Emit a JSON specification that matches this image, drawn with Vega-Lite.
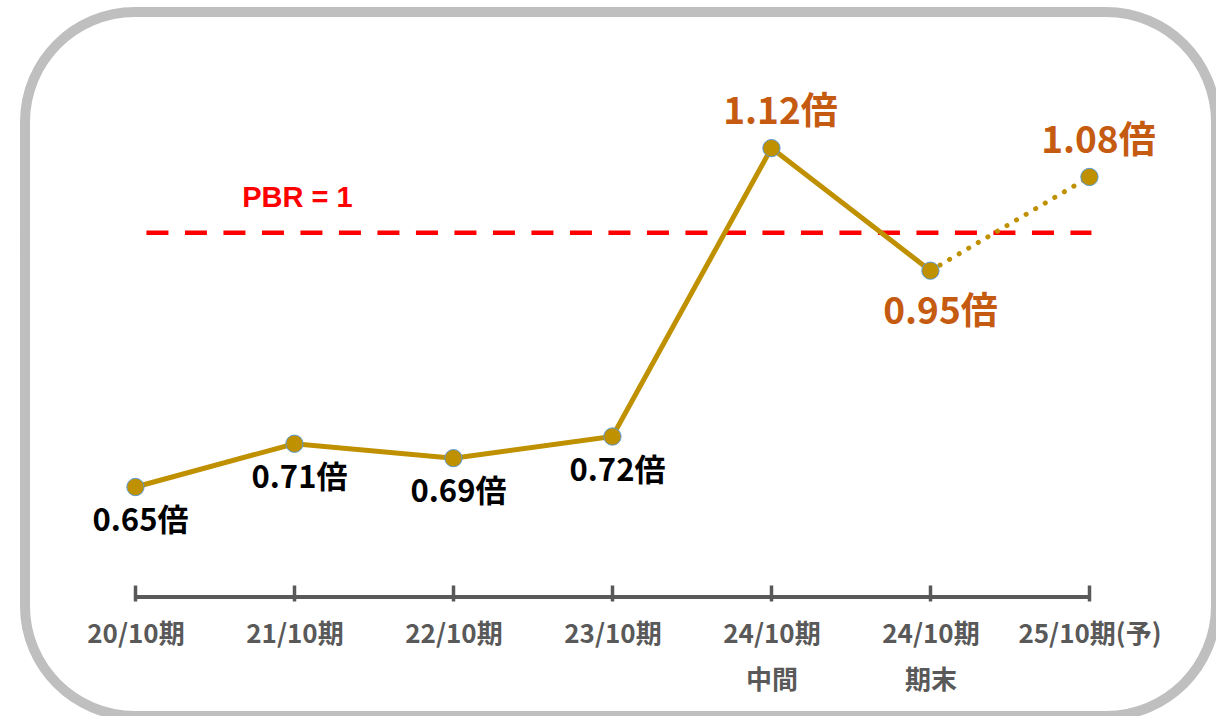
{
  "$schema": "https://vega.github.io/schema/vega-lite/v6.json",
  "width": 1191,
  "height": 704,
  "autosize": "none",
  "padding": {"left": 25, "top": 12, "right": 0, "bottom": 0},
  "background": "white",
  "config": {
    "view": {"stroke": "#bfbfbf", "strokeWidth": 10, "cornerRadius": 110, "fill": "white"}
  },
  "datasets": {
    "pbr": [{"level": 1, "label": "PBR = 1"}],
    "axisline": [{"base": 0.4974}],
    "pbrs": [
      {"i": 1, "period": "20/10期", "value": 0.65, "label": "0.65倍"},
      {"i": 2, "period": "21/10期", "value": 0.71, "label": "0.71倍"},
      {"i": 3, "period": "22/10期", "value": 0.69, "label": "0.69倍"},
      {"i": 4, "period": "23/10期", "value": 0.72, "label": "0.72倍"},
      {"i": 5, "period": "24/10期 中間", "value": 1.12, "label": "1.12倍"},
      {"i": 6, "period": "24/10期 期末", "value": 0.95, "label": "0.95倍"},
      {"i": 7, "period": "25/10期(予)", "value": 1.08, "label": "1.08倍"}
    ]
  },
  "data": {"name": "pbrs"},
  "encoding": {
    "x": {
      "field": "period",
      "type": "ordinal",
      "sort": null,
      "scale": {
        "type": "point",
        "padding": 0.7453,
        "align": 0.466,
        "domain": ["20/10期", "21/10期", "22/10期", "23/10期", "24/10期 中間", "24/10期 期末", "25/10期(予)"]
      },
      "axis": {
        "title": null,
        "domain": false,
        "grid": false,
        "offset": -131,
        "ticks": true,
        "tickSize": 16,
        "tickWidth": 3.5,
        "tickColor": "#595959",
        "labelAngle": 0,
        "labelFont": "Noto Sans CJK JP",
        "labelFontWeight": "bold",
        "labelFontSize": 26,
        "labelColor": "#595959",
        "labelPadding": 20,
        "labelLineHeight": 46,
        "labelBaseline": "top",
        "labelExpr": "split(datum.label, ' ')"
      }
    },
    "y": {
      "field": "value",
      "type": "quantitative",
      "scale": {"domain": [0.3324, 1.3088], "zero": false, "nice": false},
      "axis": null
    }
  },
  "layer": [
    {
      "data": {"name": "pbr"},
      "mark": {"type": "rule", "color": "#ff0000", "strokeWidth": 4.5, "strokeDash": [22, 16.5], "xOffset": 11, "x2Offset": 2, "yOffset": -2},
      "encoding": {
        "x": {"datum": "20/10期"},
        "x2": {"datum": "25/10期(予)"},
        "y": {"field": "level", "type": "quantitative"}
      }
    },
    {
      "data": {"name": "pbr"},
      "mark": {"type": "text", "color": "#ff0000", "font": "Liberation Sans", "fontWeight": "bold", "fontSize": 29, "dy": -37, "dx": 3},
      "encoding": {
        "x": {"datum": "21/10期"},
        "y": {"field": "level", "type": "quantitative"},
        "text": {"field": "label"}
      }
    },
    {
      "data": {"name": "axisline"},
      "mark": {"type": "rule", "color": "#595959", "strokeWidth": 4},
      "encoding": {
        "x": {"datum": "20/10期"},
        "x2": {"datum": "25/10期(予)"},
        "y": {"field": "base", "type": "quantitative"}
      }
    },
    {
      "transform": [{"filter": "datum.i <= 6"}],
      "mark": {"type": "line", "color": "#bf9000", "strokeWidth": 5}
    },
    {
      "transform": [{"filter": "datum.i >= 6"}],
      "mark": {"type": "line", "color": "#bf9000", "strokeWidth": 5, "strokeDash": [0.1, 11], "strokeCap": "round"}
    },
    {
      "mark": {"type": "point", "shape": "circle", "filled": true, "size": 300, "fill": "#bf9000", "stroke": "#5b9bd5", "strokeWidth": 1, "opacity": 1}
    },
    {
      "transform": [{"filter": "datum.i <= 4"}],
      "mark": {"type": "text", "color": "#000000", "font": "Noto Sans CJK JP", "fontWeight": "bold", "fontSize": 31, "dy": 35, "dx": 5},
      "encoding": {"text": {"field": "label"}}
    },
    {
      "transform": [{"filter": "datum.i == 5 || datum.i == 7"}],
      "mark": {"type": "text", "color": "#c55a11", "font": "Noto Sans CJK JP", "fontWeight": "bold", "fontSize": 37, "dy": -35, "dx": 9},
      "encoding": {"text": {"field": "label"}}
    },
    {
      "transform": [{"filter": "datum.i == 6"}],
      "mark": {"type": "text", "color": "#c55a11", "font": "Noto Sans CJK JP", "fontWeight": "bold", "fontSize": 37, "dy": 42, "dx": 10},
      "encoding": {"text": {"field": "label"}}
    }
  ]
}
